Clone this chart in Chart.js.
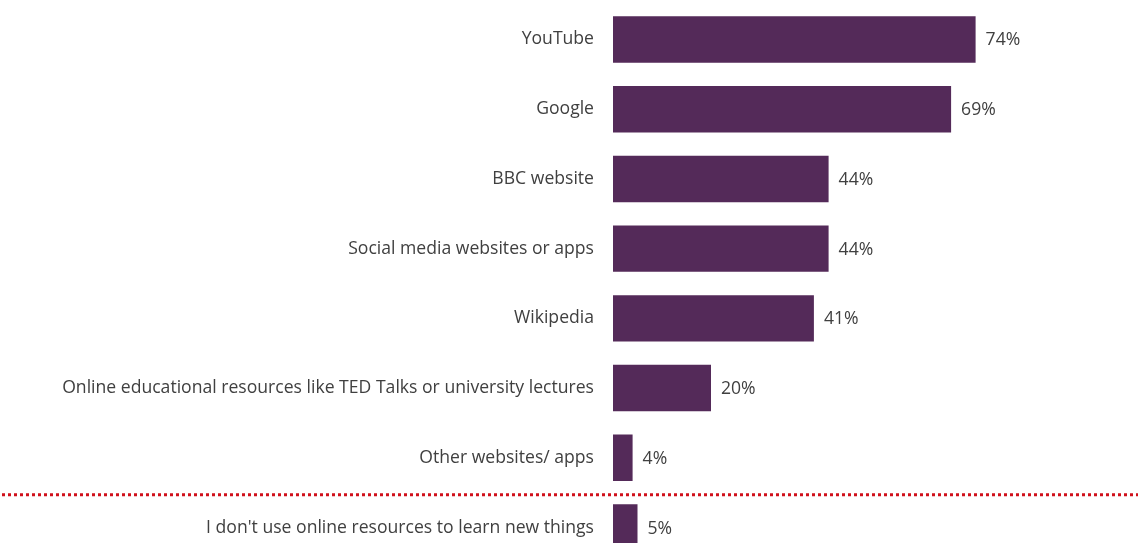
<!DOCTYPE html>
<html>
<head>
<meta charset="utf-8">
<script src="https://cdn.jsdelivr.net/npm/chart.js@4/dist/chart.umd.min.js"></script>
<style>
  html, body { margin: 0; padding: 0; background: #fff; overflow: hidden; }
  /* chart area runs past the bottom edge, like the reference (last bar is cut) */
  #myChart { display: block; margin-top: -25px; }
</style>
</head>
<body>
<canvas id="myChart" width="1138" height="617"></canvas>
<script>
// data
var sources = [
  'YouTube',
  'Google',
  'BBC website',
  'Social media websites or apps',
  'Wikipedia',
  'Online educational resources like TED Talks or university lectures',
  'Other websites/ apps',
  "I don't use online resources to learn new things"
]
var shares = [74, 69, 44, 44, 41, 20, 4, 5]

var textColor = '#404040'
var fontFamily = '"Open Sans", sans-serif'

// value labels at the end of each bar
var valueLabels = {
  id: 'valueLabels',
  afterDatasetsDraw: function(chart) {
    var ctx = chart.ctx
    var meta = chart.getDatasetMeta(0)
    ctx.save()
    ctx.font = '17.6px ' + fontFamily
    ctx.fillStyle = textColor
    ctx.textAlign = 'left'
    ctx.textBaseline = 'middle'
    meta.data.forEach(function(bar, i) {
      ctx.fillText(shares[i] + '%', bar.x + 10, bar.y + 1)
    })
    ctx.restore()
  }
}

// red dotted separator before the last category
var separator = {
  id: 'separator',
  afterDraw: function(chart) {
    var ctx = chart.ctx
    var y = chart.scales.y.getPixelForValue(6.53)
    ctx.save()
    ctx.strokeStyle = '#d0101b'
    ctx.lineWidth = 3
    ctx.setLineDash([3, 3])
    ctx.beginPath()
    ctx.moveTo(2, y)
    ctx.lineTo(chart.width, y)
    ctx.stroke()
    ctx.restore()
  }
}

var ctx = document.getElementById('myChart').getContext('2d')
var chart = new Chart(ctx, {
  type: 'bar',
  data: {
    labels: sources,
    datasets: [{
      data: shares,
      backgroundColor: '#542A59',
      borderWidth: 0,
      barPercentage: 0.8,
      categoryPercentage: 0.833
    }]
  },
  options: {
    indexAxis: 'y',
    responsive: false,
    animation: false,
    layout: { padding: { top: 5, right: 35, bottom: 0, left: 0 } },
    plugins: {
      legend: { display: false },
      tooltip: { enabled: false }
    },
    scales: {
      x: {
        display: false,
        min: 0,
        max: 100
      },
      y: {
        grid: { display: false, drawTicks: false },
        border: { display: false },
        ticks: {
          color: textColor,
          font: { family: fontFamily, size: 17.6 },
          padding: 19,
          autoSkip: false
        },
        afterFit: function(scale) { scale.width = 613 }
      }
    }
  },
  plugins: [valueLabels, separator]
})
</script>
</body>
</html>
